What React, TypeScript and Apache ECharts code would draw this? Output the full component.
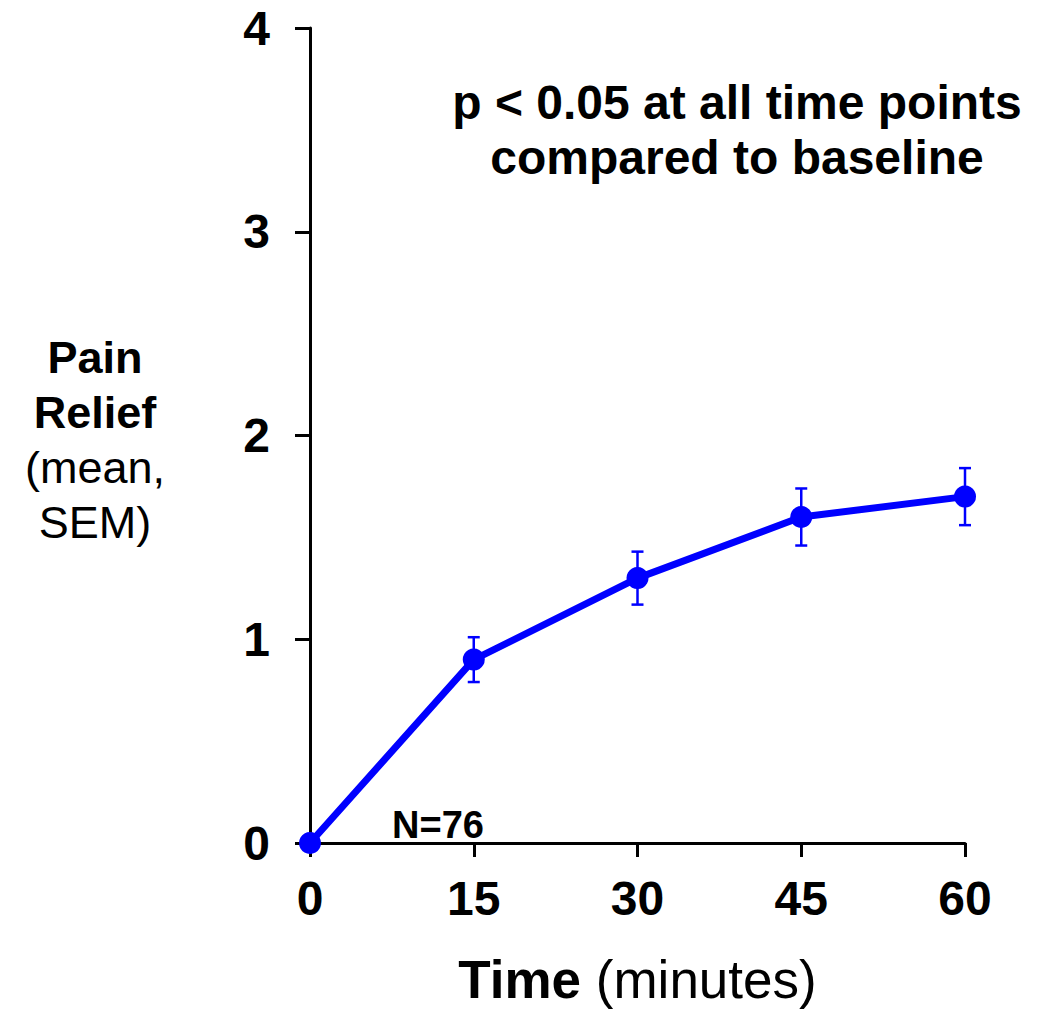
import React, { useEffect, useRef } from "react";
import * as echarts from "echarts";

const timePoints = [0, 15, 30, 45, 60];
const meanRelief = [0, 0.9, 1.3, 1.6, 1.7];
const semRelief = [0, 0.11, 0.13, 0.14, 0.14];
const xTicks = [0, 15, 30, 45, 60];
const yTicks = [0, 1, 2, 3, 4];
const annotationLines = ["p < 0.05 at all time points", "compared to baseline"];
const sampleNote = "N=76";
const yNameLines = ["Pain", "Relief", "(mean,", "SEM)"];

const FONT = "'Liberation Sans', Arial, Helvetica, sans-serif";
const BLUE = "#0000FF";

export default function App() {
  const ref = useRef<HTMLDivElement>(null);
  useEffect(() => {
    if (!ref.current) return;
    const chart = echarts.init(ref.current, null, { renderer: "svg" });
    const lineData = timePoints.map((t, i) => [t, meanRelief[i]]);
    const errData = timePoints
      .map((t, i) => [t, meanRelief[i] - semRelief[i], meanRelief[i] + semRelief[i]])
      .filter((d) => d[2] - d[1] > 0);

    const option: any = {
      animation: false,
      backgroundColor: "#ffffff",
      textStyle: { fontFamily: FONT },
      grid: { left: 310, top: 28, width: 655, height: 820, containLabel: false },
      xAxis: {
        type: "value",
        min: xTicks[0],
        max: xTicks[xTicks.length - 1],
        interval: 15,
        name: "{b|Time}{n| (minutes)}",
        nameLocation: "middle",
        nameGap: 110,
        nameTextStyle: {
          rich: {
            b: { fontFamily: FONT, fontWeight: "bold", fontSize: 53, color: "#000" },
            n: { fontFamily: FONT, fontWeight: "normal", fontSize: 53, color: "#000" },
          },
        },
        axisLine: { show: true, lineStyle: { color: "#000", width: 3 } },
        axisTick: { show: true, inside: false, length: 14, lineStyle: { color: "#000", width: 3 } },
        axisLabel: {
          margin: 31,
          fontFamily: FONT,
          fontWeight: "bold",
          fontSize: 48,
          color: "#000",
        },
        splitLine: { show: false },
      },
      yAxis: {
        type: "value",
        min: yTicks[0],
        max: yTicks[yTicks.length - 1],
        interval: 1,
        axisLine: { show: true, lineStyle: { color: "#000", width: 3 } },
        axisTick: { show: true, inside: false, length: 15, lineStyle: { color: "#000", width: 3 } },
        axisLabel: {
          margin: 40,
          fontFamily: FONT,
          fontWeight: "bold",
          fontSize: 48,
          color: "#000",
        },
        splitLine: { show: false },
      },
      graphic: [
        {
          type: "group",
          children: [
            ...annotationLines.map((t, i) => ({
              type: "text",
              x: 737,
              y: 102 + i * 55,
              style: {
                text: t,
                font: `bold 48px ${FONT}`,
                fill: "#000",
                align: "center",
                verticalAlign: "middle",
              },
            })),
            {
              type: "text",
              x: 438,
              y: 825,
              style: {
                text: sampleNote,
                font: `bold 38px ${FONT}`,
                fill: "#000",
                align: "center",
                verticalAlign: "middle",
              },
            },
            ...yNameLines.map((t, i) => ({
              type: "text",
              x: 95,
              y: 357 + i * 55,
              style: {
                text: t,
                font: `${i < 2 ? "bold" : "normal"} 45px ${FONT}`,
                fill: "#000",
                align: "center",
                verticalAlign: "middle",
              },
            })),
          ],
        },
      ],
      series: [
        {
          type: "custom",
          z: 3,
          data: errData,
          renderItem: (params: any, api: any) => {
            const x = api.value(0);
            const lo = api.coord([x, api.value(1)]);
            const hi = api.coord([x, api.value(2)]);
            const cap = 6;
            const style = { stroke: BLUE, lineWidth: 2.5 };
            return {
              type: "group",
              children: [
                { type: "line", shape: { x1: lo[0], y1: lo[1], x2: hi[0], y2: hi[1] }, style },
                { type: "line", shape: { x1: lo[0] - cap, y1: lo[1], x2: lo[0] + cap, y2: lo[1] }, style },
                { type: "line", shape: { x1: hi[0] - cap, y1: hi[1], x2: hi[0] + cap, y2: hi[1] }, style },
              ],
            };
          },
        },
        {
          type: "line",
          z: 4,
          data: lineData,
          symbol: "circle",
          symbolSize: 22,
          clip: false,
          lineStyle: { color: BLUE, width: 7 },
          itemStyle: { color: BLUE, borderWidth: 0 },
        },
      ],
    };
    chart.setOption(option);
    return () => chart.dispose();
  }, []);
  return (
    <div
      ref={ref}
      style={{ position: "absolute", left: 0, top: 0, width: 1045, height: 1011 }}
    />
  );
}
